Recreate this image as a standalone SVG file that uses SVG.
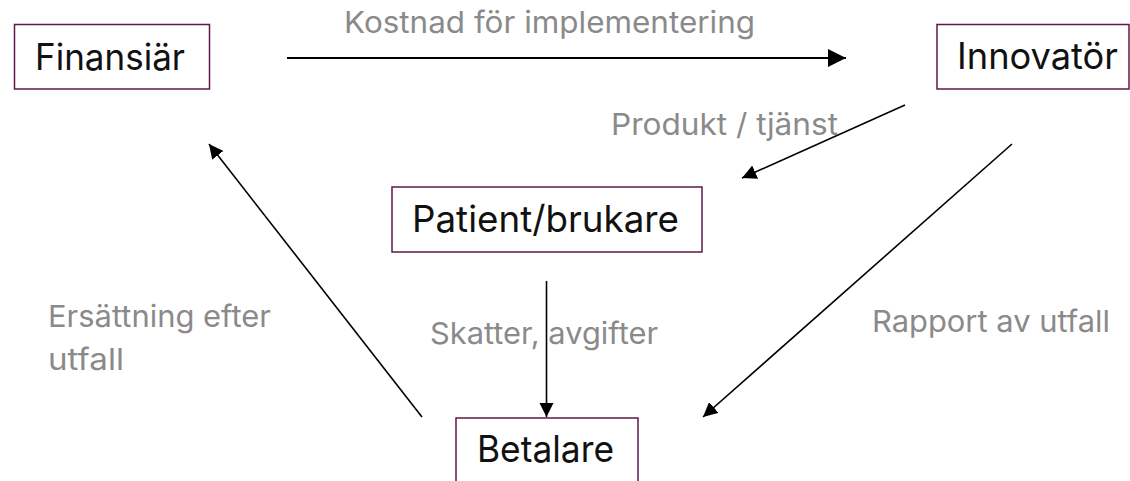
<svg xmlns="http://www.w3.org/2000/svg" width="1130" height="481" viewBox="0 0 1130 481">
  <style>
    .box { fill: #ffffff; stroke: #5e1a4a; stroke-width: 1.5; }
    .node-text { font-family: Inter, "Noto Sans", "Liberation Sans", sans-serif; font-size: 37px; fill: #111111; }
    .label { font-family: Inter, "Noto Sans", "Liberation Sans", sans-serif; font-size: 30px; fill: #8a8a8a; }
    .conn { stroke: #000000; stroke-width: 1.6; fill: none; marker-end: url(#arrow); }
  </style>
  <defs>
    <marker id="arrow" viewBox="0 0 10 10" refX="10" refY="5" markerWidth="9" markerHeight="9" markerUnits="strokeWidth" orient="auto">
      <path d="M0,0 L10,5 L0,10 Z" fill="#000000"/>
    </marker>
  </defs>
  <rect width="1130" height="481" fill="#ffffff"/>

  <!-- connectors -->
  <g id="connectors">
    <line class="conn" x1="287" y1="58" x2="846" y2="58" style="stroke-width:2"/>
    <line class="conn" x1="905" y1="105" x2="742" y2="178"/>
    <line class="conn" x1="546.5" y1="281" x2="546.5" y2="417"/>
    <line class="conn" x1="1012" y1="144" x2="703" y2="417"/>
    <line class="conn" x1="422" y1="417" x2="209" y2="144"/>
  </g>

  <!-- connector labels -->
  <g id="labels">
    <text class="label" x="344" y="33" textLength="411" lengthAdjust="spacingAndGlyphs">Kostnad för implementering</text>
    <text class="label" x="611" y="135" textLength="227" lengthAdjust="spacingAndGlyphs">Produkt / tjänst</text>
    <text class="label" x="430" y="344" textLength="228" lengthAdjust="spacingAndGlyphs">Skatter, avgifter</text>
    <text class="label" x="48" y="327" textLength="223" lengthAdjust="spacingAndGlyphs">Ersättning efter</text>
    <text class="label" x="48" y="370" textLength="76" lengthAdjust="spacingAndGlyphs">utfall</text>
    <text class="label" x="872" y="332" textLength="238" lengthAdjust="spacingAndGlyphs">Rapport av utfall</text>
  </g>

  <!-- nodes -->
  <g id="node-finansiar">
    <rect class="box" x="14.5" y="24.5" width="195" height="64.5"/>
    <text class="node-text" x="35" y="70" textLength="150" lengthAdjust="spacingAndGlyphs">Finansiär</text>
  </g>
  <g id="node-innovator">
    <rect class="box" x="937" y="24.5" width="192" height="64.5"/>
    <text class="node-text" x="957" y="69" textLength="161" lengthAdjust="spacingAndGlyphs">Innovatör</text>
  </g>
  <g id="node-patient">
    <rect class="box" x="392" y="187" width="310" height="65"/>
    <text class="node-text" x="412" y="232" textLength="267" lengthAdjust="spacingAndGlyphs">Patient/brukare</text>
  </g>
  <g id="node-betalare">
    <rect class="box" x="456" y="418" width="182" height="80"/>
    <text class="node-text" x="477" y="462" textLength="137" lengthAdjust="spacingAndGlyphs">Betalare</text>
  </g>
</svg>
